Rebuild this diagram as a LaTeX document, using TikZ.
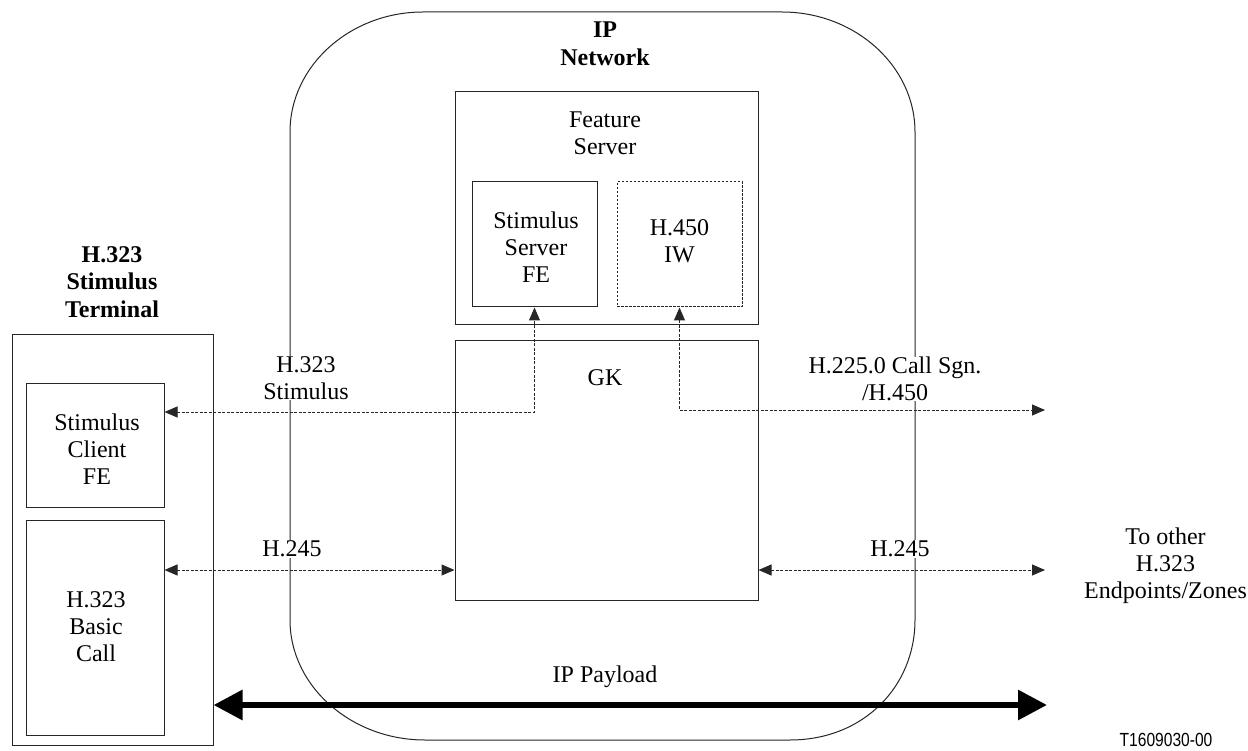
\documentclass[tikz,border=0pt]{standalone}
\usepackage{fontspec}
\setmainfont{Liberation Serif}
\newfontfamily\narrowsans[FakeStretch=0.82]{Liberation Sans}
\usetikzlibrary{arrows.meta}
\tikzset{
  lbl/.style={font=\fontsize{24}{27}\selectfont, align=center, inner sep=0.5pt},
  blbl/.style={lbl, font=\fontsize{24}{27.5}\selectfont\bfseries},
  wlbl/.style={lbl, fill=white},
  boxx/.style={draw=black!85, line width=1pt, rectangle, inner sep=0pt, align=center},
  dboxx/.style={boxx, dash pattern=on 2.5pt off 1.5pt},
  outline/.style={draw=black!85, line width=1pt},
  sig/.style={draw=black!85, line width=1pt, dash pattern=on 3pt off 1.5pt},
  stip/.tip={Triangle[length=13pt,width=11pt]},
  btip/.tip={Triangle[length=29pt,width=29pt]}
}
\begin{document}
\begin{tikzpicture}[x=1pt,y=-1pt]
\fill[white] (0,0) rectangle (1248,751);
\useasboundingbox (0,0) rectangle (1248,751);
% IP network cloud (elliptical corners)
\node[inner sep=0pt, minimum width=625pt, minimum height=728pt] (net) at (602.5,376) {};
\draw[outline] (423,12) -- (782,12) .. controls (855,12) and (915,66) .. (915,132)
  -- (915,620) .. controls (915,686) and (864,740) .. (790,740)
  -- (425,740) .. controls (351,740) and (290,686) .. (290,620)
  -- (290,132) .. controls (290,66) and (350,12) .. (423,12) -- cycle;
\node[blbl] (netlbl) at (605,44) {IP\\Network};
% Feature server
\node[boxx, minimum width=303pt, minimum height=233pt] (fs) at (606.5,208.5) {};
\node[lbl] (fslbl) at (605,133) {Feature\\Server};
\node[boxx, minimum width=125pt, minimum height=125pt] (ssfe) at (534.5,244.5) {};
\node[lbl] (ssfelbl) at (536,247) {Stimulus\\Server\\FE};
\node[dboxx, minimum width=125pt, minimum height=125pt] (iw) at (679.5,244.5) {};
\node[lbl] (iwlbl) at (679.5,241) {H.450\\IW};
% GK
\node[boxx, minimum width=303pt, minimum height=259pt] (gk) at (606.5,470.5) {};
\node[lbl] (gklbl) at (605,378) {GK};
% Terminal
\node[blbl] (termlbl) at (112,282) {H.323\\Stimulus\\Terminal};
\node[boxx, minimum width=201pt, minimum height=410pt] (term) at (112.5,540) {};
\node[boxx, minimum width=138pt, minimum height=124pt] (client) at (95,445) {};
\node[lbl] (clientlbl) at (97,449) {Stimulus\\Client\\FE};
\node[boxx, minimum width=138pt, minimum height=215pt] (basic) at (95,627.5) {};
\node[lbl] (basiclbl) at (96,627) {H.323\\Basic\\Call};
% helper coordinates
\coordinate (sY) at (0,412);
\coordinate (hY) at (0,410);
\coordinate (gY) at (0,570);
\coordinate (pY) at (0,705);
\coordinate (r1) at (1045,410);
\coordinate (r2) at (1045,570);
\coordinate (r3) at (1047,705);
% connectors
\draw[sig, {stip}-{stip}] (client.east |- sY) -- (ssfe.south |- sY) -- (ssfe.south);
\draw[sig, {stip}-{stip}] (iw.south) -- (iw.south |- hY) -- (r1);
\draw[sig, {stip}-{stip}] (basic.east |- gY) -- (gk.west |- gY);
\draw[sig, {stip}-{stip}] (gk.east |- gY) -- (r2);
\draw[line width=6pt, {btip}-{btip}] (term.east |- pY) -- (r3);
% labels on lines
\node[wlbl] (l1) at (306,378) {H.323\\Stimulus};
\node[wlbl] (l2) at (292,549) {H.245};
\node[wlbl] (l3) at (895,379) {H.225.0 Call Sgn.\\/H.450};
\node[wlbl] (l4) at (900,549) {H.245};
\node[lbl] (l5) at (1165.5,566) {To other\\H.323\\Endpoints/Zones};
\node[lbl] (l6) at (605,677) {IP Payload};
\node[inner sep=0pt, font=\narrowsans\fontsize{19}{22}\selectfont] (tag) at (1166,740) {T1609030-00};
\end{tikzpicture}
\end{document}
